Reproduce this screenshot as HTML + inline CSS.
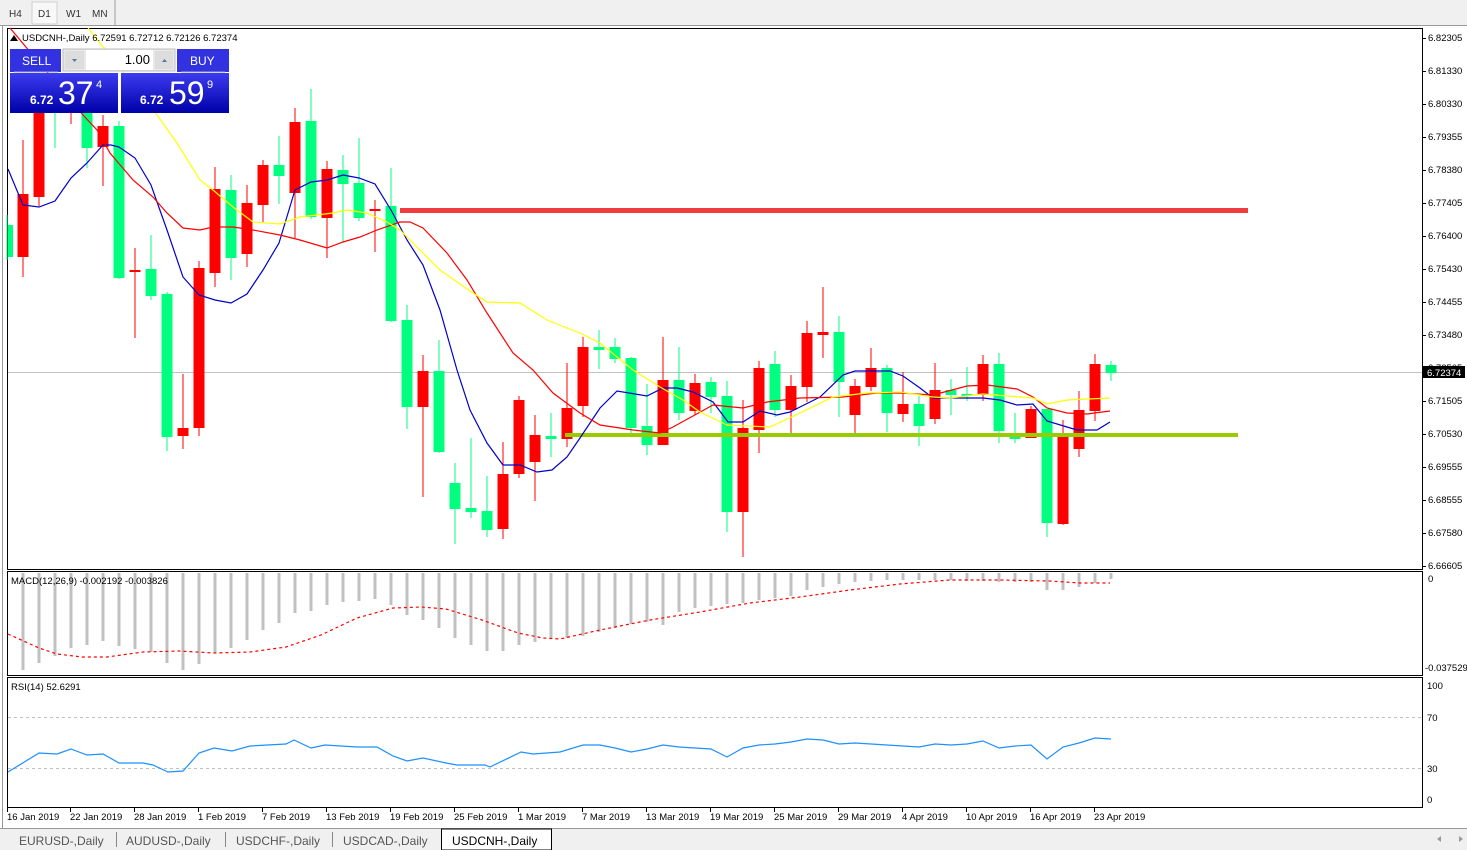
<!DOCTYPE html>
<html><head><meta charset="utf-8"><style>
html,body{margin:0;padding:0;background:#fff;width:1467px;height:850px;overflow:hidden}
svg{display:block}
text{font-family:"Liberation Sans",sans-serif}
</style></head><body>
<svg id="s" width="1467" height="850" xmlns="http://www.w3.org/2000/svg">
<rect x="0" y="0" width="1467" height="850" fill="#fff"/>
<rect x="0" y="0" width="1467" height="26" fill="#f0f0f0"/>
<rect x="32" y="2" width="25" height="22" fill="#f8f8f8" stroke="#cfcfcf"/>
<line x1="115" y1="0" x2="115" y2="25" stroke="#a0a0a0"/>
<text x="9" y="17" font-size="10" fill="#333">H4</text>
<text x="38" y="17" font-size="10" fill="#333">D1</text>
<text x="66" y="17" font-size="10" fill="#333">W1</text>
<text x="92" y="17" font-size="10" fill="#333">MN</text>
<line x1="0" y1="25.5" x2="1467" y2="25.5" stroke="#999"/>
<line x1="2.5" y1="26" x2="2.5" y2="828" stroke="#999"/>
<rect x="7.5" y="28.5" width="1415" height="541" fill="#fff" stroke="#000"/>
<rect x="7.5" y="571.5" width="1415" height="104" fill="#fff" stroke="#000"/>
<rect x="7.5" y="677.5" width="1415" height="130" fill="#fff" stroke="#000"/>
<g id="grid"></g>
<line x1="8" y1="372.5" x2="1422" y2="372.5" stroke="#c0c0c0"/>
<line x1="8" y1="717.5" x2="1422" y2="717.5" stroke="#c0c0c0" stroke-dasharray="3,3"/>
<line x1="8" y1="768.5" x2="1422" y2="768.5" stroke="#c0c0c0" stroke-dasharray="3,3"/>
<rect x="400" y="208" width="848" height="5" fill="#f03c3c"/>
<g id="macd"></g>
<g id="candles"></g>
<rect x="565" y="433" width="673" height="4" fill="#99cc00"/>
<g id="lines"></g>
<g font-size="9.5" fill="#000" id="axis">
<text x="1428" y="41">6.82305</text>
<text x="1428" y="74">6.81330</text>
<text x="1428" y="107">6.80330</text>
<text x="1428" y="140">6.79355</text>
<text x="1428" y="173">6.78380</text>
<text x="1428" y="206">6.77405</text>
<text x="1428" y="239">6.76400</text>
<text x="1428" y="272">6.75430</text>
<text x="1428" y="305">6.74455</text>
<text x="1428" y="338">6.73480</text>
<text x="1428" y="371">6.72505</text>
<text x="1428" y="404">6.71505</text>
<text x="1428" y="437">6.70530</text>
<text x="1428" y="470">6.69555</text>
<text x="1428" y="503">6.68555</text>
<text x="1428" y="536">6.67580</text>
<text x="1428" y="569">6.66605</text>
<text x="1428" y="582">0</text>
<text x="1425" y="671">-0.037529</text>
<text x="1427" y="689">100</text>
<text x="1427" y="721">70</text>
<text x="1427" y="772">30</text>
<text x="1427" y="803">0</text>
</g>
<rect x="1423" y="366" width="42" height="12" fill="#000"/>
<text x="1427" y="376" font-size="9.5" fill="#fff">6.72374</text>
<g font-size="9.5" fill="#000">
<text x="7" y="820">16 Jan 2019</text>
<text x="70" y="820">22 Jan 2019</text>
<text x="134" y="820">28 Jan 2019</text>
<text x="198" y="820">1 Feb 2019</text>
<text x="262" y="820">7 Feb 2019</text>
<text x="326" y="820">13 Feb 2019</text>
<text x="390" y="820">19 Feb 2019</text>
<text x="454" y="820">25 Feb 2019</text>
<text x="518" y="820">1 Mar 2019</text>
<text x="582" y="820">7 Mar 2019</text>
<text x="646" y="820">13 Mar 2019</text>
<text x="710" y="820">19 Mar 2019</text>
<text x="774" y="820">25 Mar 2019</text>
<text x="838" y="820">29 Mar 2019</text>
<text x="902" y="820">4 Apr 2019</text>
<text x="966" y="820">10 Apr 2019</text>
<text x="1030" y="820">16 Apr 2019</text>
<text x="1094" y="820">23 Apr 2019</text>
</g>
<text x="22" y="41" font-size="9.5" fill="#000">USDCNH-,Daily  6.72591 6.72712 6.72126 6.72374</text>
<path d="M10 41 L14 35 L18 41Z" fill="#000"/>
<text x="11" y="584" font-size="9.5" fill="#000">MACD(12,26,9) -0.002192 -0.003826</text>
<text x="11" y="690" font-size="9.5" fill="#000">RSI(14) 52.6291</text>
<defs><linearGradient id="bg" x1="0" y1="0" x2="0" y2="1"><stop offset="0" stop-color="#3c3cf0"/><stop offset="1" stop-color="#0000a8"/></linearGradient></defs>
<rect x="10" y="49" width="51" height="23" fill="#3232e0"/>
<rect x="177" y="49" width="52" height="23" fill="#3232e0"/>
<rect x="10" y="73" width="108" height="40" fill="url(#bg)"/>
<rect x="121" y="73" width="108" height="40" fill="url(#bg)"/>
<rect x="63" y="49" width="112" height="22" fill="#e8e8e8" stroke="#bbb"/>
<rect x="86" y="50" width="67" height="20" fill="#fff"/>
<rect x="65" y="51" width="19" height="18" fill="#ddd"/>
<rect x="155" y="51" width="18" height="18" fill="#ddd"/>
<path d="M72 59 L77 59 L74.5 62Z" fill="#57a"/>
<path d="M162 62 L167 62 L164.5 59Z" fill="#57a"/>
<text x="150" y="64" font-size="13" fill="#000" text-anchor="end">1.00</text>
<text x="22" y="65" font-size="12" fill="#fff">SELL</text>
<text x="190" y="65" font-size="12" fill="#fff">BUY</text>
<line x1="14" y1="72" x2="58" y2="72" stroke="#aab"/>
<line x1="181" y1="72" x2="225" y2="72" stroke="#aab"/>
<text x="30" y="104" font-size="12" font-weight="bold" fill="#fff">6.72</text>
<text x="58" y="104" font-size="32" fill="#fff">37</text>
<text x="96" y="88" font-size="11" fill="#fff">4</text>
<text x="140" y="104" font-size="12" font-weight="bold" fill="#fff">6.72</text>
<text x="169" y="104" font-size="32" fill="#fff">59</text>
<text x="207" y="88" font-size="11" fill="#fff">9</text>
<rect x="0" y="828" width="1467" height="22" fill="#f0f0f0"/>
<line x1="0" y1="828.5" x2="1467" y2="828.5" stroke="#999"/>
<rect x="441.5" y="829" width="110" height="21" fill="#fff" stroke="#000"/>
<g font-size="12" fill="#555">
<text x="19" y="845">EURUSD-,Daily</text>
<text x="126" y="845">AUDUSD-,Daily</text>
<text x="236" y="845">USDCHF-,Daily</text>
<text x="343" y="845">USDCAD-,Daily</text>
<text x="452" y="845" fill="#000">USDCNH-,Daily</text>
</g>
<g stroke="#888"><line x1="116.5" y1="832" x2="116.5" y2="847"/><line x1="225.5" y1="832" x2="225.5" y2="847"/><line x1="332.5" y1="832" x2="332.5" y2="847"/></g>
<path d="M1441 839 L1437 836 L1437 842Z" fill="#999" transform="rotate(180 1439 839)"/>
<path d="M1459 836 L1463 839 L1459 842Z" fill="#999"/>
</svg>
<script>
var NS="http://www.w3.org/2000/svg";
function el(p,t,a){var e=document.createElementNS(NS,t);for(var k in a)e.setAttribute(k,a[k]);document.getElementById(p).appendChild(e);return e;}
var G="#00ff7f",R="#ff0000";
var C=[
[G,225,257,215,260],[R,194,257,140,277],[R,100,197,100,206],[G,100,112,100,148],[R,100,110,105,124],
[G,113,148,113,168],[R,126,147,115,186],[G,126,278,121,279],[R,270,271,248,338],[G,269,296,235,300],
[G,294,437,292,451],[R,428,436,374,449],[R,268,428,261,436],[R,189,273,167,287],[G,190,258,175,280],
[R,203,254,185,267],[R,165,205,160,222],[G,165,176,136,204],[R,122,193,108,238],[G,121,217,89,219],
[R,169,218,161,258],[G,170,184,155,242],[G,183,218,138,221],[R,209,210,200,252],[G,206,321,168,322],
[G,320,407,305,429],[R,371,407,355,497],[G,371,452,340,453],[G,483,509,463,544],[G,508,512,438,518],
[G,511,530,476,537],[R,474,529,442,539],[R,400,474,396,478],[R,435,462,415,501],[G,436,439,413,457],
[R,408,439,363,447],[R,347,406,337,417],[G,347,350,330,369],[G,347,359,338,363],[G,358,428,357,433],
[G,426,445,384,455],[R,380,445,337,445],[G,380,413,347,420],[R,383,411,374,415],[G,382,397,377,413],
[G,396,512,381,532],[R,428,512,400,557],[R,368,430,361,453],[G,364,410,351,417],[R,386,410,375,433],
[R,333,387,321,402],[R,332,335,287,358],[G,332,382,316,417],[R,386,415,379,433],[R,368,387,348,391],
[G,368,413,365,432],[R,404,414,372,422],[G,404,426,396,446],[R,390,419,363,424],[G,390,395,379,415],
[G,394,396,367,401],[R,364,395,355,401],[G,364,431,353,443],[G,437,438,413,443],[R,409,438,406,438],
[G,409,523,409,537],[R,437,524,420,525],[R,410,449,391,457],[R,364,411,354,421],[G,365,373,361,381]];
C.forEach(function(c,k){var x=7+16*k;var bt=c[1],bb=Math.max(c[2],c[1]+2);
el("candles","rect",{x:x-0.5,y:c[3],width:1,height:c[4]-c[3],fill:c[0]});
var bx=k==0?8:x-5.5;var bw=k==0?5:11;
el("candles","rect",{x:bx,y:bt,width:bw,height:bb-bt,fill:c[0]});});
function pl(pts,col,w,extra){var a={points:pts.map(function(p){return p.join(",")}).join(" "),fill:"none",stroke:col,"stroke-width":w};for(var k in extra)a[k]=extra[k];el("lines","polyline",a);}
pl([[8,169],[23,205],[39,207],[55,201],[71,178],[87,163],[103,145],[111,145],[119,147],[135,158],[151,185],[167,230],[183,277],[199,295],[215,300],[231,303],[247,294],[263,270],[279,243],[295,190],[311,182],[327,180],[343,175],[359,178],[375,184],[391,210],[407,240],[423,265],[440,310],[457,370],[470,410],[487,443],[503,465],[520,465],[537,472],[552,470],[567,457],[580,438],[600,408],[617,391],[647,396],[663,388],[677,388],[693,392],[713,402],[728,422],[743,422],[760,411],[777,415],[790,412],[800,407],[820,397],[843,375],[855,371],[890,371],[903,376],[920,388],[933,398],[983,398],[1000,400],[1017,405],[1033,404],[1047,421],[1067,427],[1077,430],[1097,430],[1110,422]],"#0000cc",1.2);
pl([[10,28],[83,115],[97,130],[110,153],[133,180],[153,197],[167,213],[183,228],[200,230],[213,227],[233,227],[253,230],[280,235],[300,240],[327,248],[343,242],[360,237],[377,230],[400,222],[410,222],[423,228],[447,253],[467,280],[487,313],[513,353],[533,370],[553,393],[580,413],[600,425],[633,430],[660,433],[673,427],[693,416],[713,405],[743,408],[767,402],[800,398],[843,397],[877,393],[900,393],[933,395],[967,386],[987,385],[1017,389],[1033,397],[1047,408],[1067,413],[1087,414],[1110,411]],"#ff0000",1.2);
pl([[88,28],[157,115],[177,143],[200,180],[213,190],[233,207],[253,222],[280,224],[300,217],[333,213],[347,210],[367,213],[387,222],[400,230],[420,250],[440,270],[473,293],[487,302],[520,303],[547,320],[567,328],[580,333],[600,343],[617,357],[633,370],[660,387],[683,400],[700,412],[727,425],[770,427],[800,413],[833,397],[867,393],[900,392],[933,397],[950,398],[983,394],[1033,398],[1047,404],[1067,400],[1110,398]],"#ffff00",1.2);
var M={1:670,2:663,3:656,4:648,5:645,6:641,7:646,8:649,9:652,10:663,11:670,12:664,13:653,14:648,15:640,16:630,17:623,18:613,19:611,20:605,21:602,22:601,23:599,24:605,25:615,26:620,27:628,28:638,29:645,30:651,31:651,32:645,33:642,34:639,35:638,36:636,37:632,38:628,39:624,40:622,41:625,42:612,43:608,44:606,45:604,46:603,47:600,48:598,49:596,50:590,51:587,52:584,53:582,54:581,55:580,56:580,57:580,58:580,59:580,60:581,61:581,62:582,63:582,64:582,65:590,66:590,67:587,68:583,69:579};
for(var k=1;k<70;k++){el("macd","rect",{x:7+16*k-1.5,y:573,width:3,height:M[k]-573,fill:"#c0c0c0"});}
pl([[8,634],[39,648],[57,654],[82,657],[107,657],[143,652],[179,651],[214,653],[250,652],[286,647],[321,635],[357,618],[393,608],[421,607],[446,609],[482,620],[518,633],[543,638],[560,639],[600,630],[650,620],[700,612],[750,603],[800,597],[850,590],[900,584],[950,580],[1000,580],[1050,581],[1080,583],[1110,583]],"#ff0000",1.2,{"stroke-dasharray":"3,3"});
pl([[8,772],[39,753],[57,754],[71,749],[87,755],[103,754],[119,763],[143,763],[153,765],[168,772],[183,771],[199,753],[214,748],[232,751],[250,746],[286,744],[294,740],[311,748],[325,745],[357,747],[377,747],[393,756],[407,761],[423,758],[446,763],[457,765],[485,765],[490,767],[521,752],[533,754],[560,752],[583,745],[600,745],[615,748],[631,752],[647,749],[663,745],[679,747],[695,748],[711,749],[727,757],[743,748],[759,745],[775,744],[791,742],[807,739],[823,740],[839,744],[855,743],[871,744],[887,745],[903,746],[919,747],[935,744],[951,745],[967,744],[983,741],[999,748],[1015,746],[1031,745],[1047,759],[1063,747],[1079,743],[1095,738],[1111,739]],"#1e90ff",1.2);
for(var i=0;i<17;i++)el("grid","line",{x1:1422,x2:1426,y1:38+33*i+0.5,y2:38+33*i+0.5,stroke:"#000"});
[7,70,134,198,262,326,390,454,518,582,646,710,774,838,902,966,1030,1094].forEach(function(x){el("grid","line",{x1:x+0.5,x2:x+0.5,y1:807,y2:812,stroke:"#000"});});
</script>
</body></html>
